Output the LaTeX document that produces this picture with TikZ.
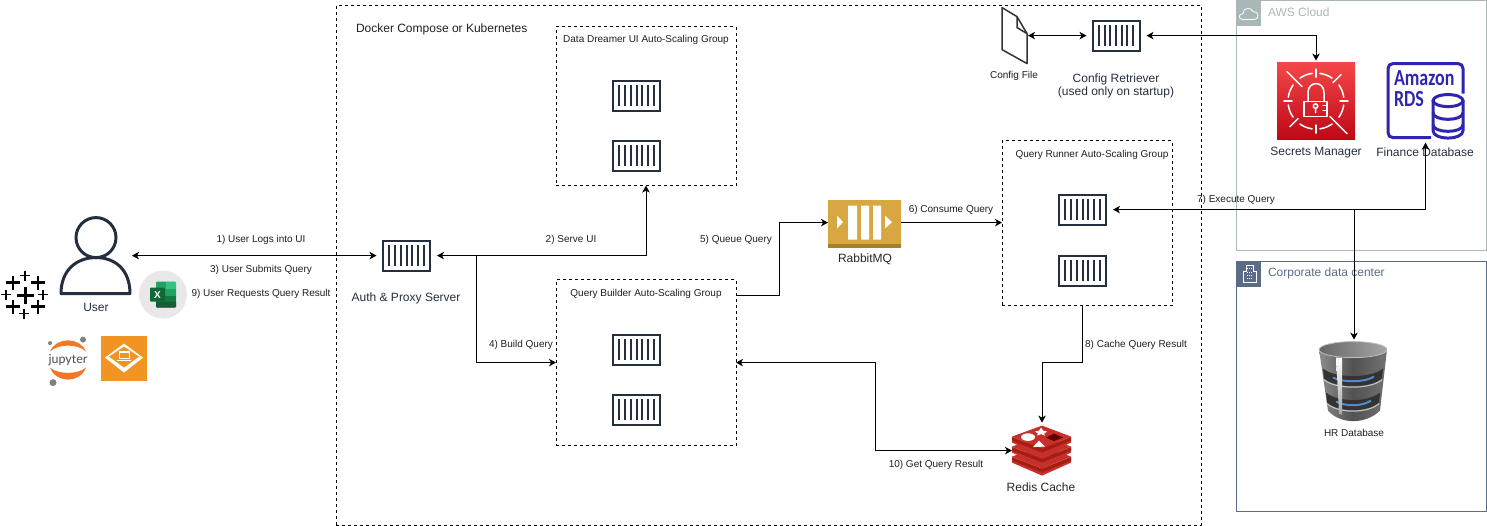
\documentclass[tikz,border=0pt]{standalone}
\usepackage{fontspec}
\setmainfont{Liberation Sans}
\newfontfamily\rdsfont[FakeStretch=0.78]{Carlito}
\newfontfamily\jupfont{Lato}
\usetikzlibrary{arrows.meta,shadings}
\definecolor{ink}{HTML}{232F3E}
\definecolor{awsgray}{HTML}{AAB7B8}
\definecolor{corpblue}{HTML}{5A6C86}
\definecolor{rdsblue}{HTML}{2E27AD}
\definecolor{rabbit}{HTML}{D9A741}
\definecolor{rabbitdk}{HTML}{A67F2C}
\definecolor{redisA}{HTML}{C6302B}
\definecolor{redisB}{HTML}{A41E11}
\definecolor{orangeb}{HTML}{F29423}
\definecolor{secA}{HTML}{F54749}
\definecolor{secB}{HTML}{BD0816}
\definecolor{xlA}{HTML}{33C481}
\definecolor{xlB}{HTML}{21A366}
\definecolor{xlC}{HTML}{107C41}
\definecolor{xlD}{HTML}{185C37}
\definecolor{jupo}{HTML}{F37726}
\tikzset{
  every node/.style={inner sep=0pt,outer sep=0pt},
  smalllabel/.style={font=\fontsize{10}{12}\selectfont,text=black!88,align=center},
  biglabel/.style={font=\fontsize{12}{14}\selectfont,text=ink,align=center},
  flow/.style={line width=1pt,draw=black,-{Stealth[length=7pt,width=7.5pt,inset=2pt]}},
  biflow/.style={line width=1pt,draw=black,{Stealth[length=7pt,width=7.5pt,inset=2pt]}-{Stealth[length=7pt,width=7.5pt,inset=2pt]}},
  groupbox/.style={draw=black,line width=1pt,dash pattern=on 3pt off 3pt,anchor=north west},
  ctrbox/.style={draw=ink,line width=2pt,fill=white,minimum width=47pt,minimum height=30pt,
    path picture={\foreach \dx in {-17.1,-11.4,-5.7,0,5.7,11.4,17.1}
      \draw[ink,line width=2pt] ([xshift=\dx pt,yshift=10.5pt]path picture bounding box.center) -- ++(0,21);}},
  whiteline/.style={draw=white,line width=1.5pt,line cap=round},
}
\begin{document}
\begin{tikzpicture}[x=1pt,y=-1pt]
\useasboundingbox (0,-0.6) rectangle (1487,525.4);

% --- regions
\node[groupbox,minimum width=865pt,minimum height=519.5pt] (compose) at (336,5) {};
\node[groupbox,minimum width=180pt,minimum height=159pt] (uig) at (556,26) {};
\node[groupbox,minimum width=180pt,minimum height=166pt] (qbg) at (556,279) {};
\node[groupbox,minimum width=170pt,minimum height=165pt] (qrg) at (1002,140) {};

\node[draw=awsgray,line width=1pt,anchor=north west,minimum width=250pt,minimum height=249.5pt] (aws) at (1236,0) {};
\node[fill=awsgray,anchor=north west,minimum size=25pt] (awsicon) at (1236,0) {};
\draw[draw=white,line width=.8pt,line join=round] (1243,19) .. controls (1238,19) and (1238,13) .. (1243,13)
  .. controls (1243,7) and (1251,6) .. (1253,11) .. controls (1259,10) and (1260,19) .. (1254,19) -- cycle;
\node[draw=corpblue,line width=1pt,anchor=north west,minimum width=250pt,minimum height=250pt] (corp) at (1236,261) {};
\node[fill=corpblue,anchor=north west,minimum size=25pt] (corpicon) at (1236,261) {};
\draw[draw=white,line width=.7pt] (1243,282) -- (1243,271) -- (1246,271) -- (1246,265) -- (1253,265) -- (1253,271) -- (1256,271) -- (1256,282) -- cycle;
\foreach \yy in {268,272,275,278} \draw[white,line width=.7pt,dash pattern=on 1pt off 1pt] (1247,\yy) -- (1253,\yy);

% --- labels of regions
\node[biglabel,anchor=west,text=black!88] (composelab) at (356,29) {Docker Compose or Kubernetes};
\node[smalllabel] (uilab) at (646,39) {Data Dreamer UI Auto-Scaling Group};
\node[smalllabel] (qblab) at (646,293) {Query Builder Auto-Scaling Group};
\node[smalllabel] (qrlab) at (1092,154) {Query Runner Auto-Scaling Group};
\node[biglabel,anchor=west,text=awsgray] (awslab) at (1268,12) {AWS Cloud};
\node[biglabel,anchor=west,text=corpblue] (corplab) at (1268,273) {Corporate data center};

% --- containers
\node[ctrbox] (auth) at (406.5,255) {};
\node[ctrbox] (ui1) at (636.5,95) {};
\node[ctrbox] (ui2) at (636.5,155) {};
\node[ctrbox] (qb1) at (636.5,349) {};
\node[ctrbox] (qb2) at (636.5,409) {};
\node[ctrbox] (qr1) at (1082.5,209) {};
\node[ctrbox] (qr2) at (1082.5,270) {};
\node[ctrbox] (cfgr) at (1116,35) {};
\node[biglabel] (authlab) at (406,298) {Auth \& Proxy Server};
\node[biglabel] (cfgrlab) at (1116,85) {Config Retriever\\[-1pt](used only on startup)};

% --- user
\node[minimum width=69pt,minimum height=76pt] (user) at (95.5,255) {};
\draw[ink,line width=3pt] (96,237) circle (20);
\draw[ink,line width=3pt,line join=round] (61,293) .. controls (61,270) and (76,257) .. (96,257) .. controls (116,257) and (130,270) .. (130,293) -- cycle;
\node[biglabel] (userlab) at (96,307) {User};

% --- tableau
\node[minimum width=48pt,minimum height=46pt] (tableau) at (25,295) {};
\foreach \cx/\cy/\h/\w in {25/295/8.5/3,13/282/7/2.4,38/282/7/2.4,25/275/5/1.6,6/294/5/1.6,43/294/5/1.6,13/306/7/2.4,38/306/7/2.4,24/313/5/1.6}
  \draw[black,line width=\w pt] (\cx-\h,\cy) -- (\cx+\h,\cy) (\cx,\cy-\h) -- (\cx,\cy+\h);

% --- excel
\node[circle,fill=black!9,minimum size=48pt] (excel) at (163,294) {};
\fill[xlB,rounded corners=1pt] (156,281) rectangle (176,307);
\fill[xlB] (156,281) rectangle (166,288.5);
\fill[xlA] (166,281) rectangle (176,288.5);
\fill[xlC] (156,295) rectangle (166,301);
\fill[xlC] (166,295) rectangle (176,301);
\fill[xlD,rounded corners=1pt] (156,301) rectangle (176,307);
\fill[xlC!85!black,rounded corners=1pt] (150,287) rectangle (165,301);
\node[font=\fontsize{10}{12}\selectfont\bfseries,text=white] (excelx) at (157.5,294) {X};

% --- jupyter
\node[minimum width=44pt,minimum height=50pt] (jupyter) at (68,360) {};
\fill[jupo] (50,351) .. controls (56,336) and (80,336) .. (86,351) .. controls (78,343) and (58,343) .. (50,351) -- cycle;
\fill[jupo] (50,367) .. controls (56,383) and (80,383) .. (86,367) .. controls (78,374) and (58,374) .. (50,367) -- cycle;
\fill[black!50] (83,339) circle (3);
\fill[black!50] (50,342.5) circle (2);
\fill[black!50] (53,382) circle (3.5);
\node[font=\jupfont\fontsize{12.5}{14}\selectfont,text=black!70] (juplab) at (68,359) {jupyter};

% --- orange box
\node[fill=orangeb,minimum width=46pt,minimum height=45pt] (obox) at (124,357.5) {};
\fill[white] (124,343) -- (143,357) -- (124,372) -- (105,357) -- cycle;
\fill[orangeb] (124,346) -- (139,356) -- (124,367) -- (109,356) -- cycle;
\draw[white,line width=1pt] (119,351) rectangle (129,358);
\draw[white,line width=1.2pt] (117,360) -- (131,360);
\fill[white] (119,351) rectangle (129,352);

% --- config file
\node[minimum width=25pt,minimum height=56pt] (cfgf) at (1014.5,35) {};
\draw[black!80,line width=1.5pt,line join=round] (1002,7) -- (1017,16) -- (1027,33) -- (1027,63) -- (1002,49) -- cycle;
\draw[black!80,line width=1.5pt,line join=round] (1017,16) -- (1017,27) -- (1027,33);
\node[smalllabel] (cfgflab) at (1014,75) {Config File};

% --- secrets manager
\node[minimum width=78pt,minimum height=77pt,top color=secA,bottom color=secB] (secrets) at (1316,100.5) {};
\foreach \a in {8,55,98,145,188,235,278,325}
  \draw[whiteline] (1316,100.5) ++(\a:28) arc[start angle=\a,delta angle=27,radius=28];
\foreach \a in {0,90,180,270}
  \draw[whiteline] (1316,100.5) ++(\a:24) -- ++(\a:8);
\draw[whiteline] (1287,71) -- (1302,86) (1330,116) -- (1347,133) (1333,82) -- (1341,74) (1290,126) -- (1298,118);
\draw[whiteline,line join=round] (1304,101) rectangle (1327,116);
\draw[whiteline] (1308,101) -- (1308,92) .. controls (1308,80) and (1324,80) .. (1324,92) -- (1324,101);
\draw[whiteline] (1315.5,105.5) circle (2.2) (1315.5,108) -- (1315.5,112);
\draw[whiteline] (1327,105) -- (1323,105) (1327,110) -- (1323,110);

% --- rds
\node[minimum width=77pt,minimum height=77pt] (rds) at (1425.5,100.5) {};
\draw[rdsblue,line width=3pt,line join=round] (1431,137) -- (1393,137) .. controls (1390,137) and (1388,135) .. (1388,132)
  -- (1388,68) .. controls (1388,65) and (1390,63) .. (1393,63) -- (1458,63) .. controls (1461,63) and (1463,65) .. (1463,68) -- (1463,93);
\node[font=\rdsfont\bfseries\fontsize{23}{23}\selectfont,text=rdsblue,anchor=west] (rdslab1) at (1394,78) {Amazon};
\node[font=\rdsfont\bfseries\fontsize{23}{23}\selectfont,text=rdsblue,anchor=west] (rdslab2) at (1394,98) {RDS};
\draw[rdsblue,line width=3pt,fill=white] (1433,100) -- (1433,130) .. controls (1433,140) and (1463,140) .. (1463,130) -- (1463,100);
\draw[rdsblue,line width=3pt,fill=white] (1448,100) ellipse (15 and 6);
\draw[rdsblue,line width=3pt] (1433,112) .. controls (1433,121) and (1463,121) .. (1463,112);
\draw[rdsblue,line width=3pt] (1433,124) .. controls (1433,133) and (1463,133) .. (1463,124);
\node[biglabel] (seclab) at (1316,152) {Secrets Manager};
\node[biglabel] (rdsname) at (1425,152) {Finance Database};

% --- rabbit
\node[fill=rabbit,minimum width=73pt,minimum height=48pt] (rmq) at (864.5,223) {};
\fill[rabbitdk] (828,243.5) rectangle (901,247);
\fill[white] (848,205) rectangle (857,239) (861,205) rectangle (869,239) (873,205) rectangle (881,239);
\fill[white] (837,215) -- (843,221.5) -- (837,228) -- cycle (885,215) -- (892,221.5) -- (885,228) -- cycle;
\node[biglabel,text=black!85] (rmqlab) at (865,259) {RabbitMQ};

% --- redis
\node[minimum width=60pt,minimum height=50pt] (redis) at (1042,450) {};
\foreach \dy in {20,10,0} {
  \fill[redisA] (1012,436+\dy) -- (1042,448+\dy) -- (1071,436+\dy) -- (1071,442+\dy) -- (1042,455+\dy) -- (1012,442+\dy) -- cycle;
  \fill[redisB] (1012,440+\dy) -- (1042,452+\dy) -- (1071,440+\dy) -- (1071,437+\dy) -- (1042,448+\dy) -- (1012,437+\dy) -- cycle;
  \fill[redisA] (1042,425+\dy) -- (1071,436+\dy) -- (1042,448+\dy) -- (1012,436+\dy) -- cycle;
}
\fill[white] (1028,436.5) ellipse (7 and 3.8);
\fill[white] (1041,427) -- (1043,430) -- (1047,431) -- (1044,433) -- (1045,435) -- (1041,433.5) -- (1037,435) -- (1038,433) -- (1035,431) -- (1039,430) -- cycle;
\fill[white] (1039,440) -- (1045,446) -- (1033,446.5) -- cycle;
\fill[red!40!black] (1054,433) -- (1063,437) -- (1054,440.5) -- (1046,437) -- cycle;
\node[biglabel,text=black!85] (redislab) at (1041,487) {Redis Cache};

% --- HR database
\node[minimum width=68pt,minimum height=79pt] (hrdb) at (1353,380.5) {};
\shade[left color=black!45,right color=black!55,middle color=black!68] (1319,349) -- (1328,410) .. controls (1340,424) and (1366,424) .. (1380,410) -- (1387,349) -- cycle;
\foreach \yy/\xl/\xr in {368/1323/1383,392/1326/1380} {
  \fill[black!80] (\xl,\yy) .. controls (\xl+12,\yy+10) and (\xr-12,\yy+10) .. (\xr,\yy) -- (\xr-1,\yy+10) .. controls (\xr-12,\yy+20) and (\xl+12,\yy+20) .. (\xl+1,\yy+10) -- cycle;
  \draw[cyan!45!blue!70!white,line width=2pt] (\xl+10,\yy+9) .. controls (\xl+20,\yy+14) and (\xr-18,\yy+14) .. (\xr-9,\yy+8);
  \draw[black!25,line width=1.2pt] (\xl+1,\yy+11) .. controls (\xl+12,\yy+21) and (\xr-12,\yy+21) .. (\xr-1,\yy+11);
}
\shade[top color=white,bottom color=black!35] (1336,357) -- (1342,357) -- (1342,414) -- (1339,413) -- cycle;
\shade[left color=black!60,right color=black!35,draw=black!25,line width=.8pt] (1353,349) ellipse (34 and 8);
\node[smalllabel] (hrlab) at (1354,432) {HR Database};

% --- connectors
\coordinate (junction) at (476,255);
\coordinate (qbout) at (736,295);
\coordinate (bendq) at (779,222);
\coordinate (bend7) at (1425.5,209);
\coordinate (tee7) at (1354,209);
\coordinate (qrout) at (1082,305);
\coordinate (bend8a) at (1082,362);
\coordinate (bend8b) at (1042,362);
\coordinate (bend10) at (875,362);

\draw[biflow,shorten <=2pt,shorten >=6.5pt] (user.east) -- (auth.west);
\draw[biflow,shorten <=7pt] (auth.east) -| (uig.south);
\draw[flow] (junction) |- (qbg.west);
\draw[flow] (qbout) -| (bendq) -- (rmq.west |- bendq);
\draw[flow] (rmq.east |- bendq) -- (qrg.west |- bendq);
\draw[biflow,shorten <=7pt,shorten >=3pt] (qr1.east) -- (bend7) -- (rds.south);
\draw[flow,shorten >=2pt] (tee7) -- (hrdb.north -| tee7);
\draw[flow,shorten >=3pt] (qrout) -- (bend8a) -- (bend8b) -- (redis.north);
\draw[biflow] (qbg.east) -- (bend10) |- (redis.west);
\draw[biflow,shorten <=1pt,shorten >=6pt] (cfgf.east) -- (cfgr.west);
\draw[biflow,shorten <=7pt,shorten >=2pt] (cfgr.east) -| (secrets.north);

% --- connector labels
\node[smalllabel] (l1) at (261,239) {1) User Logs into UI};
\node[smalllabel] (l3) at (261,269) {3) User Submits Query};
\node[smalllabel] (l9) at (261,293) {9) User Requests Query Result};
\node[smalllabel] (l2) at (571,239) {2) Serve UI};
\node[smalllabel] (l5) at (736,239) {5) Queue Query};
\node[smalllabel] (l4) at (521,344) {4) Build Query};
\node[smalllabel] (l6) at (951,209) {6) Consume Query};
\node[smalllabel] (l7) at (1236,199) {7) Execute Query};
\node[smalllabel] (l8) at (1136,344) {8) Cache Query Result};
\node[smalllabel] (l10) at (936,464) {10) Get Query Result};
\end{tikzpicture}
\end{document}
